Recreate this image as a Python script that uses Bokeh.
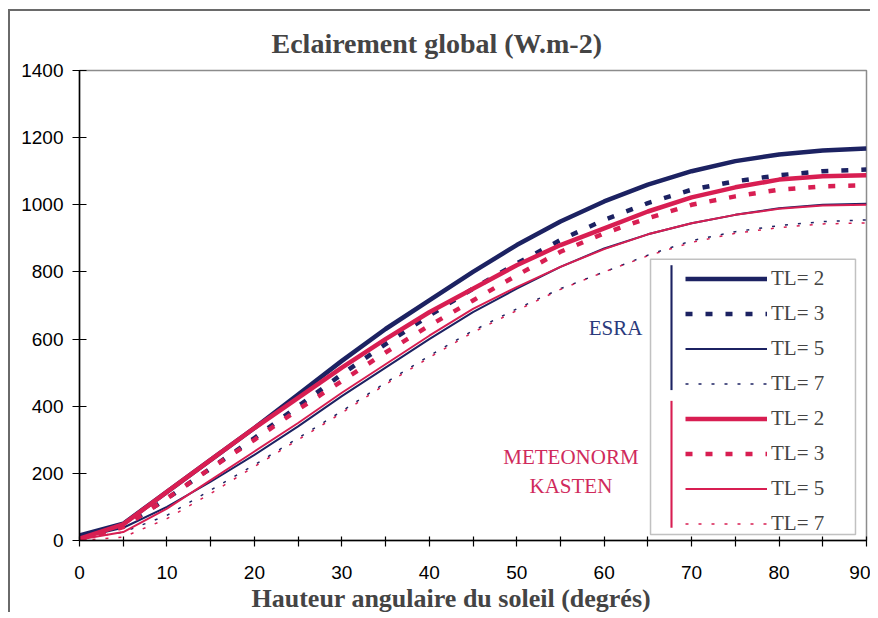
from bokeh.plotting import figure
from bokeh.models import (Legend, LegendItem, Label, BoxAnnotation, FixedTicker,
                          Range1d, Title)
from bokeh.embed import file_html
from bokeh.resources import INLINE

# ---- data ----
deg = [0, 5, 10, 15, 20, 25, 30, 35, 40, 45, 50, 55, 60, 65, 70, 75, 80, 85, 90]

esra_tl2 = [15, 50, 145, 240, 335, 435, 535, 630, 715, 800, 880, 950, 1010, 1060, 1100, 1130, 1150, 1162, 1168]
esra_tl3 = [10, 42, 125, 215, 305, 400, 495, 585, 670, 750, 825, 895, 955, 1005, 1045, 1070, 1088, 1100, 1105]
esra_tl5 = [8, 38, 100, 175, 255, 340, 430, 515, 600, 680, 750, 815, 870, 912, 945, 970, 990, 1000, 1003]
esra_tl7 = [5, 25, 75, 150, 225, 305, 385, 470, 550, 625, 690, 750, 800, 850, 893, 920, 938, 950, 955]

mk_tl2 = [5, 48, 145, 240, 335, 425, 515, 600, 680, 750, 820, 880, 930, 980, 1022, 1052, 1075, 1085, 1088]
mk_tl3 = [3, 40, 125, 215, 300, 390, 475, 560, 640, 715, 790, 860, 915, 960, 1000, 1025, 1045, 1055, 1058]
mk_tl5 = [3, 25, 95, 180, 265, 350, 440, 525, 610, 690, 755, 815, 868, 912, 945, 970, 988, 998, 1000]
mk_tl7 = [0, 10, 65, 140, 220, 300, 380, 465, 545, 620, 685, 748, 800, 848, 888, 915, 932, 943, 946]

legend_labels = ["TL= 2", "TL= 3", "TL= 5", "TL= 7"]
x_ticks = list(range(0, 91, 5))
y_ticks = list(range(0, 1401, 200))

title_text = "Eclairement global (W.m-2)"
xlabel_text = "Hauteur angulaire du soleil (degrés)"

NAVY = "#1c2262"
RED = "#d81e52"
NAVY_TXT = "#2a3a7c"
RED_TXT = "#d02a5c"
SERIF = "Liberation Serif"
SANS = "Liberation Sans"

p = figure(width=870, height=612, output_backend="svg", toolbar_location=None,
           x_range=Range1d(0, 90), y_range=Range1d(0, 1400),
           min_border_left=79, min_border_right=4, min_border_top=70,
           min_border_bottom=64)
p.border_fill_color = None
p.background_fill_color = "white"
p.styles = {"box-shadow": "inset 8px 9px 0 0 white, inset 10px 11px 0 0 #6a6a6a"}
p.outline_line_color = "#8c8c8c"
p.outline_line_width = 1.5
p.xgrid.visible = False
p.ygrid.visible = False

# title
t = Title(text=title_text, align="left", offset=192, text_font=SERIF,
          text_font_size="28px", text_font_style="bold", standoff=24)
p.add_layout(t, "above")

# axes
for ax in (p.xaxis[0], p.yaxis[0]):
    ax.axis_line_color = "black"
    ax.axis_line_width = 1.5
    ax.major_tick_line_color = "black"
    ax.major_tick_line_width = 1.2
    ax.minor_tick_line_color = None
    ax.major_label_text_font = SANS
    ax.major_label_text_font_size = "19px"
    ax.major_label_text_color = "black"

p.xaxis.ticker = FixedTicker(ticks=x_ticks)
p.xaxis.major_label_overrides = {v: "" for v in x_ticks if v % 10 != 0}
p.xaxis.major_tick_in = 4
p.xaxis.major_tick_out = 6
p.xaxis.major_label_standoff = 19

p.yaxis.ticker = FixedTicker(ticks=y_ticks)
p.yaxis.major_tick_in = 7
p.yaxis.major_tick_out = 7
p.yaxis.major_label_standoff = 9

xl = Title(text=xlabel_text, align="left", offset=172, text_font=SERIF,
           text_font_size="26px", text_font_style="bold", standoff=0)
p.add_layout(xl, "below")

# lines
r_e2 = p.line(deg, esra_tl2, line_color=NAVY, line_width=4.5)
r_e3 = p.line(deg, esra_tl3, line_color=NAVY, line_width=4.5, line_dash="7 13")
r_e5 = p.line(deg, esra_tl5, line_color=NAVY, line_width=2)
r_e7 = p.line(deg, esra_tl7, line_color=NAVY, line_width=1.5, line_dash="3 10")
r_m2 = p.line(deg, mk_tl2, line_color=RED, line_width=4.5)
r_m3 = p.line(deg, mk_tl3, line_color=RED, line_width=4.5, line_dash="7 13")
r_m5 = p.line(deg, mk_tl5, line_color=RED, line_width=2)
r_m7 = p.line(deg, mk_tl7, line_color=RED, line_width=1.5, line_dash="3 10")

# legend frame and group bars
p.add_layout(BoxAnnotation(left=65.3, right=88.74, bottom=17.6, top=837.6,
                           fill_color="white", fill_alpha=1.0,
                           line_color="#333333", line_width=1.5))
p.add_layout(BoxAnnotation(left=67.58, right=67.82, bottom=448, top=820,
                           fill_color=NAVY, fill_alpha=1.0, line_alpha=0))
p.add_layout(BoxAnnotation(left=67.58, right=67.82, bottom=38, top=416,
                           fill_color=RED, fill_alpha=1.0, line_alpha=0))

renderers = [r_e2, r_e3, r_e5, r_e7, r_m2, r_m3, r_m5, r_m7]
items = [LegendItem(label=legend_labels[i % 4], renderers=[r]) for i, r in enumerate(renderers)]
leg = Legend(items=items, location=(606, 4), orientation="vertical",
             glyph_width=82, glyph_height=25, label_height=25, spacing=10,
             padding=0, margin=0, border_line_alpha=0, background_fill_alpha=0,
             label_text_font=SERIF, label_text_font_size="21px",
             label_standoff=4)
p.add_layout(leg)

# group labels
p.add_layout(Label(x=61.3, y=633, text="ESRA", text_align="center",
                   text_baseline="middle", text_font=SERIF,
                   text_font_size="21px", text_color=NAVY_TXT))
p.add_layout(Label(x=56.2, y=249, text="METEONORM", text_align="center",
                   text_baseline="middle", text_font=SERIF,
                   text_font_size="21px", text_color=RED_TXT))
p.add_layout(Label(x=56.2, y=161, text="KASTEN", text_align="center",
                   text_baseline="middle", text_font=SERIF,
                   text_font_size="21px", text_color=RED_TXT))

open("out.html", "w").write(file_html(p, INLINE))
